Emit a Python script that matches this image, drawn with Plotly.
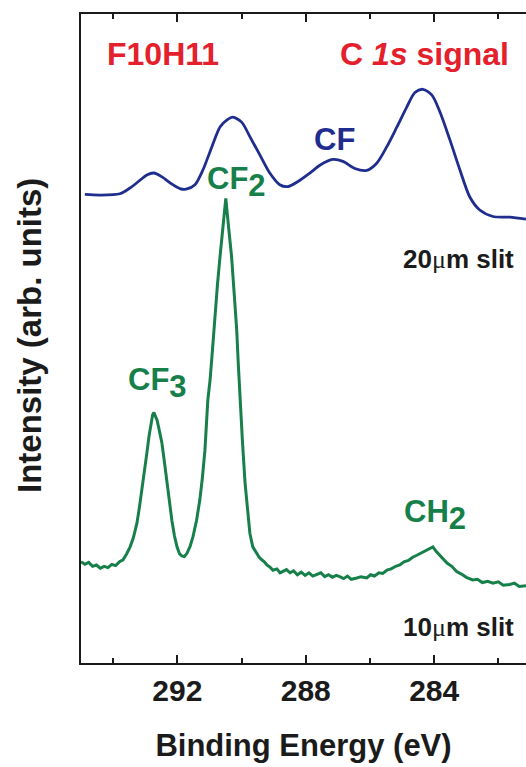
import plotly.graph_objects as go

# ---- data (binding energy in eV, intensity in arb. units) ----
blue_energy = [294.88, 294.41, 293.79, 293.47, 293.16, 292.95, 292.73, 292.48, 292.17, 291.92,
               291.73, 291.45, 291.20, 290.92, 290.67, 290.45, 290.27, 289.99, 289.74, 289.43,
               289.12, 288.81, 288.56, 288.24, 287.87, 287.56, 287.16, 286.84, 286.47, 286.10,
               285.79, 285.47, 285.16, 284.85, 284.60, 284.35, 284.07, 283.82, 283.51, 283.20,
               282.89, 282.58, 282.17, 281.65, 281.14]
blue_intensity = [72.2, 72.1, 72.3, 73.2, 74.4, 75.2, 75.5, 74.9, 73.8, 73.1,
                  73.0, 73.7, 76.0, 79.6, 82.6, 83.7, 84.1, 83.3, 81.1, 78.3,
                  75.5, 73.7, 73.4, 74.2, 75.5, 76.7, 77.6, 77.3, 76.2, 75.9,
                  77.0, 79.6, 82.6, 85.7, 87.9, 88.4, 87.5, 84.9, 80.6, 76.0,
                  71.8, 69.8, 68.8, 68.7, 68.4]

green_energy = [295.00, 294.88, 294.76, 294.64, 294.52, 294.40, 294.28, 294.16, 294.04, 293.92,
                293.80, 293.69, 293.58, 293.47, 293.37, 293.26, 293.18, 293.10, 293.02, 292.95,
                292.88, 292.82, 292.77, 292.73, 292.68, 292.63, 292.56, 292.48, 292.40, 292.32,
                292.24, 292.17, 292.09, 292.01, 291.93, 291.86, 291.78, 291.70, 291.60, 291.51,
                291.40, 291.30, 291.22, 291.14, 291.05, 290.98, 290.90, 290.83, 290.75, 290.67,
                290.58, 290.49, 290.40, 290.31, 290.23, 290.15, 290.10, 290.05, 289.97, 289.89,
                289.81, 289.74, 289.65, 289.52, 289.45, 289.37, 289.29, 289.21, 289.12, 289.02,
                288.90, 288.80, 288.71, 288.60, 288.49, 288.38, 288.26, 288.14, 288.02, 287.90,
                287.78, 287.65, 287.53, 287.41, 287.29, 287.17, 287.05, 286.94, 286.82, 286.70,
                286.58, 286.41, 286.28, 286.10, 285.98, 285.86, 285.72, 285.60, 285.47, 285.34,
                285.20, 285.07, 284.94, 284.80, 284.67, 284.54, 284.42, 284.29, 284.16, 284.04,
                283.94, 283.84, 283.73, 283.60, 283.45, 283.30, 283.15, 283.00, 282.80, 282.65,
                282.50, 282.33, 282.17, 282.00, 281.85, 281.65, 281.50, 281.35, 281.14]
green_intensity = [15.6, 15.2, 15.5, 14.9, 15.1, 14.6, 14.9, 14.7, 15.2, 15.0,
                   15.6, 15.9, 16.8, 17.9, 19.3, 21.5, 24.0, 26.7, 29.8, 32.3,
                   35.0, 36.9, 38.2, 38.6, 38.1, 37.4, 35.8, 33.9, 30.9, 27.7,
                   24.6, 22.0, 19.6, 17.9, 16.8, 16.5, 16.4, 16.9, 18.0, 19.5,
                   22.0, 25.1, 28.5, 32.8, 40.5, 43.6, 48.6, 53.9, 58.3, 62.6,
                   67.2, 71.6, 67.0, 62.6, 57.0, 51.3, 46.0, 40.5, 34.0, 27.7,
                   23.5, 20.0, 17.9, 16.9, 16.3, 15.9, 15.6, 15.1, 14.8, 14.3,
                   14.5, 13.9, 14.1, 14.4, 13.9, 14.2, 13.6, 14.0, 13.5, 13.9,
                   13.4, 13.6, 13.9, 13.3, 13.6, 13.2, 13.5, 13.3, 13.0, 13.4,
                   12.9, 13.1, 13.3, 13.1, 13.6, 13.4, 13.9, 13.8, 14.3, 14.5,
                   14.9, 15.1, 15.6, 15.8, 16.3, 16.6, 16.9, 17.3, 17.6, 17.9,
                   17.2, 16.7, 16.1, 15.4, 14.9, 14.1, 13.7, 13.2, 12.8, 12.9,
                   12.4, 12.6, 12.3, 12.5, 12.0, 12.1, 12.3, 11.8, 11.9]

major_ticks = [292, 288, 284]
minor_ticks = [294, 290, 286, 282]
tick_labels = ["292", "288", "284"]

BLUE = "#1f2e8e"
GREEN = "#17804a"
RED = "#e3202b"
INK = "#1b1b1b"
FONT = "Liberation Sans, Arial, Helvetica, sans-serif"
MU = "<span style=\"font-family:'Liberation Serif',serif;font-weight:normal\">μ</span>"

fig = go.Figure()
fig.add_trace(go.Scatter(x=blue_energy, y=blue_intensity, mode="lines",
                         line=dict(color=BLUE, width=2.8, shape="spline", smoothing=0.8),
                         showlegend=False, hoverinfo="skip"))
fig.add_trace(go.Scatter(x=green_energy, y=green_intensity, mode="lines",
                         line=dict(color=GREEN, width=3),
                         showlegend=False, hoverinfo="skip"))

def label(text, x, y, color, size, xanchor="left", yanchor="middle"):
    fig.add_annotation(text=text, x=x, y=y, xref="x", yref="y", showarrow=False,
                       xanchor=xanchor, yanchor=yanchor,
                       font=dict(family=FONT, size=size, color=color, weight="bold"))

SUB = lambda d: "<sub><span style=\"font-size:31px\">%s</span></sub>" % d

label("F10H11", 294.25, 93.8, RED, 32)
label("C <i>1s</i> signal", 281.62, 93.8, RED, 32, xanchor="right")
label("CF", 287.81, 80.7, BLUE, 31)
label("CF" + SUB("2"), 291.14, 74.1, GREEN, 31)
label("CF" + SUB("3"), 293.6, 43.1, GREEN, 31)
label("CH" + SUB("2"), 285.0, 22.8, GREEN, 31)
label("20" + MU + "m slit", 281.45, 62.2, INK, 26, xanchor="right")
label("10" + MU + "m slit", 281.45, 5.5, INK, 26, xanchor="right")

fig.add_annotation(text="Intensity (arb. units)", xref="paper", yref="paper",
                   x=(29 - 81) / 445, y=(663 - 336) / 649, textangle=-90,
                   showarrow=False, xanchor="center", yanchor="middle",
                   font=dict(family=FONT, size=33, color=INK, weight="bold"))

fig.update_xaxes(range=[295, 281.14], tickmode="array", tickvals=major_ticks,
                 ticktext=tick_labels, ticks="inside", ticklen=8, tickwidth=2,
                 tickcolor=INK, showline=True, linewidth=2, linecolor=INK,
                 mirror="allticks", showgrid=False, zeroline=False,
                 tickfont=dict(family=FONT, size=30, color=INK, weight="bold"),
                 minor=dict(tickmode="array", tickvals=minor_ticks, ticks="inside",
                            ticklen=5, tickwidth=2, tickcolor=INK, showgrid=False),
                 title=dict(text="Binding Energy (eV)", standoff=28,
                            font=dict(family=FONT, size=31, color=INK, weight="bold")))
fig.update_yaxes(range=[0, 100], showticklabels=False, ticks="", showline=True,
                 linewidth=2, linecolor=INK, mirror=False, showgrid=False,
                 zeroline=False)

fig.update_layout(width=526, height=767, autosize=False,
                  margin=dict(l=81, r=0, t=14, b=104),
                  paper_bgcolor="white", plot_bgcolor="white",
                  font=dict(family=FONT, color=INK))

fig.write_html("out.html", config={"displayModeBar": False, "staticPlot": True},
               post_script="document.body.style.margin='0';document.body.style.padding='0';"
                           "document.documentElement.style.overflow='hidden';")
